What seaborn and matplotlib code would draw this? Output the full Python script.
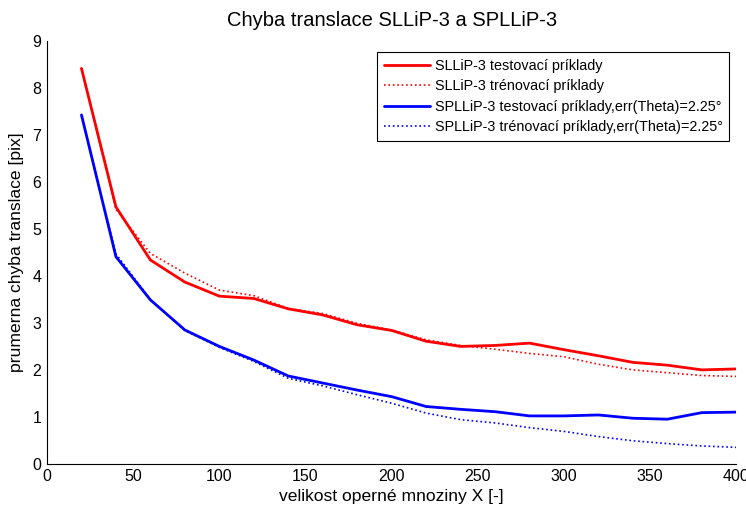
import matplotlib
matplotlib.use("Agg")
import matplotlib.pyplot as plt
import seaborn as sns
import pandas as pd

# size of the support set X
x_vals = [20, 40, 60, 80, 100, 120, 140, 160, 180, 200,
          220, 240, 260, 280, 300, 320, 340, 360, 380, 400]

# mean translation error [pix]
sllip_test = [8.42, 5.47, 4.34, 3.87, 3.57, 3.52, 3.30, 3.17, 2.96, 2.84,
              2.61, 2.50, 2.52, 2.57, 2.43, 2.30, 2.16, 2.10, 2.00, 2.02]
sllip_train = [8.42, 5.42, 4.48, 4.06, 3.70, 3.58, 3.31, 3.20, 2.99, 2.85,
               2.64, 2.52, 2.44, 2.35, 2.28, 2.12, 2.00, 1.94, 1.88, 1.86]
spllip_test = [7.43, 4.41, 3.49, 2.85, 2.50, 2.21, 1.87, 1.72, 1.57, 1.43,
               1.22, 1.16, 1.11, 1.02, 1.02, 1.04, 0.97, 0.95, 1.09, 1.10]
spllip_train = [7.40, 4.47, 3.50, 2.84, 2.48, 2.18, 1.82, 1.66, 1.47, 1.29,
                1.08, 0.94, 0.87, 0.77, 0.69, 0.58, 0.49, 0.43, 0.38, 0.35]

labels = [
    "SLLiP-3 testovací príklady",
    "SLLiP-3 trénovací príklady",
    "SPLLiP-3 testovací príklady,err(Theta)=2.25°",
    "SPLLiP-3 trénovací príklady,err(Theta)=2.25°",
]
x_ticks = [0, 50, 100, 150, 200, 250, 300, 350, 400]
y_ticks = [0, 1, 2, 3, 4, 5, 6, 7, 8, 9]

sns.set_style("white")
plt.rcParams["font.family"] = ["Liberation Sans", "DejaVu Sans"]
plt.rcParams["text.color"] = "black"
plt.rcParams["axes.labelcolor"] = "black"

series = [sllip_test, sllip_train, spllip_test, spllip_train]
colors = ["#ff0000", "#ff0000", "#0000ff", "#0000ff"]
styles = ["-", ":", "-", ":"]
widths = [2.0, 1.2, 2.0, 1.2]

fig = plt.figure(figsize=(7.46, 5.08), dpi=100)
ax = fig.add_axes([0.063, 0.087, 0.924, 0.832])

for vals, lab, col, ls, lw in zip(series, labels, colors, styles, widths):
    df = pd.DataFrame({"x": x_vals, "y": vals})
    sns.lineplot(data=df, x="x", y="y", ax=ax, color=col, linestyle=ls,
                 linewidth=lw, label=lab)

ax.set_xlim(0, 400)
ax.set_ylim(0, 9)
ax.set_xticks(x_ticks)
ax.set_yticks(y_ticks)
ax.tick_params(direction="in", length=5, width=0.8, labelsize=11.5,
               colors="black", pad=4)
for side in ("top", "right"):
    ax.spines[side].set_visible(False)
for side in ("left", "bottom"):
    ax.spines[side].set_color("black")
    ax.spines[side].set_linewidth(0.8)

ax.set_xlabel("velikost operné mnoziny X [-]", fontsize=12.6, labelpad=3)
ax.set_ylabel("prumerna chyba translace [pix]", fontsize=12.6, labelpad=6)
ax.set_title("Chyba translace SLLiP-3 a SPLLiP-3", fontsize=14.5, pad=11,
             color="black")

leg = ax.legend(loc="upper right", bbox_to_anchor=(0.99, 0.974),
                borderaxespad=0, fontsize=10.4, frameon=True,
                fancybox=False, edgecolor="black", framealpha=1,
                handlelength=3.2, handletextpad=0.35, labelspacing=0.45,
                borderpad=0.45)
leg.get_frame().set_linewidth(0.8)
for t in leg.get_texts():
    t.set_color("black")

fig.savefig("out.png", dpi=100)
